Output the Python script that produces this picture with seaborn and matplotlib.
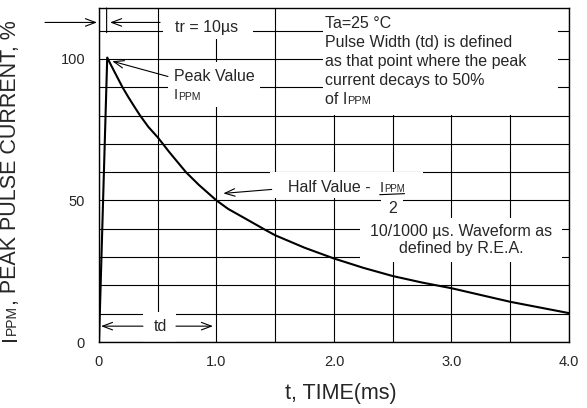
#Import needed packages
import numpy as np
import seaborn as sns
import matplotlib.pyplot as plt
from matplotlib.patches import Rectangle

#Data (10/1000 us pulse)
t_ms = [0.0, 0.07, 0.1, 0.15, 0.2, 0.25, 0.3, 0.35, 0.42, 0.5, 0.6, 0.65, 0.74, 0.85,
        1.0, 1.1, 1.25, 1.42, 1.5, 1.75, 2.0, 2.25, 2.5, 2.75, 3.0, 3.25, 3.5, 3.75, 4.0]
ipp_pct = [0.0, 100.5, 98.0, 94.0, 90.0, 86.5, 83.2, 80.0, 76.0, 72.3, 67.0, 64.5, 60.0, 55.5,
           50.0, 47.0, 43.5, 39.5, 37.7, 33.3, 29.5, 26.2, 23.3, 21.0, 19.0, 16.6, 14.2, 12.2, 10.2]

x_ticks = [0, 1, 2, 3, 4]
x_tick_labels = ['0', '1.0', '2.0', '3.0', '4.0']
y_ticks = [0, 50, 100]
y_tick_labels = ['0', '50', '100']

note_lines = ['Ta=25 °C',
              'Pulse Width (td) is defined',
              'as that point where the peak',
              'current decays to 50%']
wave_lines = ['10/1000 µs. Waveform as', 'defined by R.E.A.']

sns.set_style('white')
plt.rcParams['font.family'] = ['Liberation Sans', 'DejaVu Sans']

fig = plt.figure(figsize=(5.87, 4.08), dpi=100)
ax = fig.add_axes([0.16865, 0.16176, 0.80068, 0.81863])

FS = 11.5
ARROW = dict(arrowstyle='->,head_length=0.8,head_width=0.3', lw=0.8, color='black',
             shrinkA=0, shrinkB=0, mutation_scale=9)
PLAIN = dict(arrowstyle='-', lw=0.8, color='black', shrinkA=0, shrinkB=0)


def run_text(x, y, parts, rotation=0, transform=None):
    #write text chunks of different sizes on one baseline
    s0, f0 = parts[0]
    if rotation == 0:
        first = ax.text(x, y, s0, fontsize=f0, ha='left', va='baseline', zorder=6,
                        transform=transform or ax.transData)
    else:
        first = ax.text(x, y, s0, fontsize=f0, ha='right', va='bottom', rotation=90,
                        zorder=6, transform=transform or ax.transData)
    chunks = [first]
    for s, f in parts[1:]:
        lift = (f0 - f) * 0.212
        if rotation == 0:
            t = ax.annotate(s, xy=(1, 0), xycoords=(chunks[-1], first), xytext=(0, lift),
                            textcoords='offset points', fontsize=f, ha='left',
                            va='bottom', zorder=6)
        else:
            t = ax.annotate(s, xy=(1, 1), xycoords=(first, chunks[-1]), xytext=(-lift, 0),
                            textcoords='offset points', fontsize=f, ha='right',
                            va='bottom', rotation=90, zorder=6)
        chunks.append(t)
    return chunks


#Curve
sns.lineplot(x=t_ms, y=ipp_pct, ax=ax, color='black', linewidth=1.5,
             estimator=None, sort=False, zorder=4)

#Axes, grid
ax.set_xlim(0, 4)
ax.set_ylim(0, 118)
ax.set_xticks(x_ticks)
ax.set_xticklabels(x_tick_labels)
ax.set_yticks(y_ticks)
ax.set_yticklabels(y_tick_labels)
ax.set_xticks(np.arange(0, 4.01, 0.5), minor=True)
ax.set_yticks(np.arange(0, 118, 10), minor=True)
ax.tick_params(which='both', length=0)
ax.tick_params(axis='x', pad=9, labelsize=10.5)
ax.tick_params(axis='y', pad=10, labelsize=10.5)
ax.grid(which='both', color='black', linewidth=0.8)
ax.set_axisbelow(True)
for sp in ax.spines.values():
    sp.set_color('black')
    sp.set_linewidth(1.0)
    sp.set_zorder(7)

ax.set_xlabel('t, TIME(ms)', fontsize=15.5)
ax.xaxis.set_label_coords(0.515, -0.122)
run_text(-0.166, 0.003, [('I', 15.5), ('PPM', 10), (', PEAK PULSE CURRENT, %', 15.5)],
         rotation=90, transform=ax.transAxes)

#White areas behind the notes
masks = [(0.545, 107.2, 0.766, 11), (0.587, 82.9, 0.783, 15.9), (1.906, 80.1, 2.0, 38),
         (1.455, 50.8, 1.302, 9.2), (2.40, 43.0, 0.19, 9), (2.221, 28.2, 1.72, 15.5),
         (0.374, 0.0, 0.281, 10.6)]
for x0, y0, w, h in masks:
    ax.add_patch(Rectangle((x0, y0), w, h, facecolor='white', edgecolor='none', zorder=1.5))

#tr marker
ax.annotate('', xy=(-0.017, 112.9), xytext=(-0.46, 112.9), arrowprops=ARROW,
            annotation_clip=False)
ax.annotate('', xy=(t_ms[1] - 0.005, 118), xytext=(t_ms[1] - 0.005, 109.3), arrowprops=PLAIN)
ax.annotate('', xy=(0.094, 112.9), xytext=(0.52, 112.9), arrowprops=ARROW)
ax.text(0.919, 109.6, 'tr = 10µs', fontsize=FS, ha='center', va='baseline', zorder=6)

#Peak value
ax.text(0.638, 92.1, 'Peak Value', fontsize=FS, va='baseline', zorder=6)
run_text(0.638, 85.7, [('I', 10.5), ('PPM', 7.5)])
ax.annotate('', xy=(0.113, 99.2), xytext=(0.587, 93.8), arrowprops=ARROW)

#Condition notes
for i, line in enumerate(note_lines):
    ax.text(1.923, 111.0 - i * 6.7, line, fontsize=FS, va='baseline', zorder=6)
run_text(1.923, 84.2, [('of I', FS), ('PPM', 8)])

#Half value, I_PPM over 2
hv = run_text(1.609, 53.0, [('Half Value -  ', FS), ('I', 10.5), ('PPM', 7)])
ax.annotate('', xy=(1, 0), xycoords=hv[2], xytext=(0, 0), textcoords=hv[1],
            arrowprops=PLAIN)
ax.text(2.5, 45.4, '2', fontsize=FS, ha='center', va='baseline', zorder=6)
ax.annotate('', xy=(1.058, 52.5), xytext=(1.47, 53.9), arrowprops=ARROW)

for i, line in enumerate(wave_lines):
    ax.text(3.085, 37.5 - i * 6.2, line, fontsize=FS, ha='center', va='baseline', zorder=6)

#td marker
ax.annotate('', xy=(0.017, 5.6), xytext=(0.374, 5.6), arrowprops=ARROW)
ax.annotate('', xy=(0.970, 5.6), xytext=(0.655, 5.6), arrowprops=ARROW)
ax.text(0.519, 5.6, 'td', fontsize=FS, ha='center', va='center', zorder=6)

plt.savefig('out.png', dpi=100)
